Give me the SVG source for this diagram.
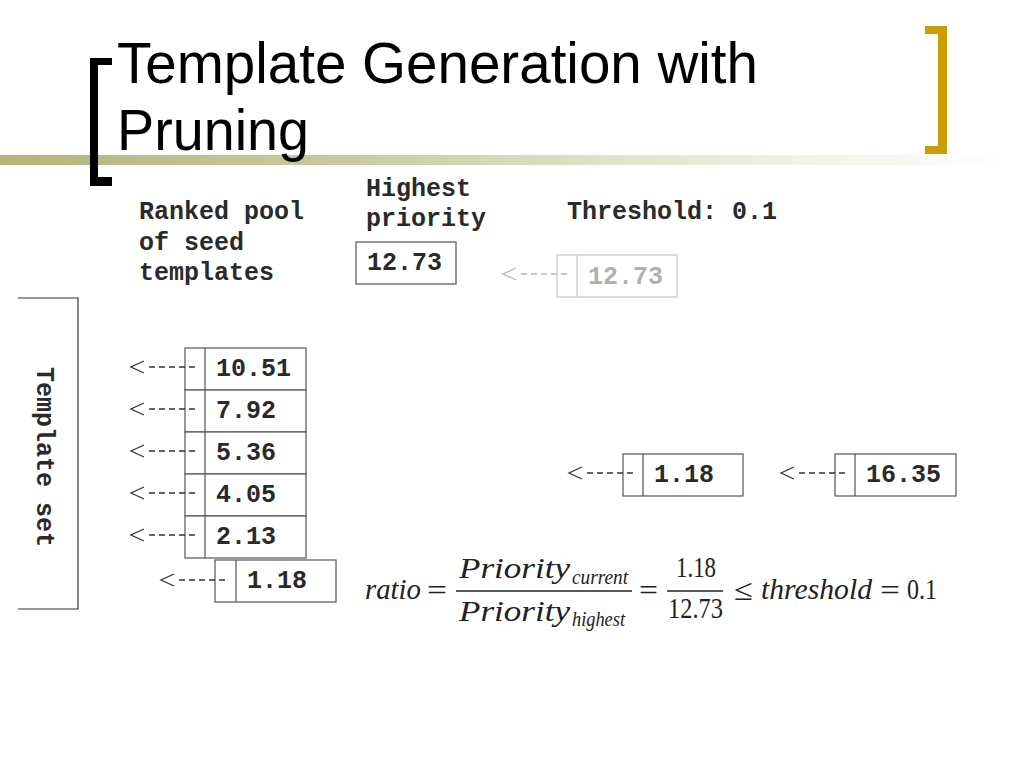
<svg xmlns="http://www.w3.org/2000/svg" width="1024" height="768" viewBox="0 0 1024 768">
<defs>
<linearGradient id="band" x1="0" y1="0" x2="1" y2="0">
<stop offset="0" stop-color="#b3b57a"/>
<stop offset="0.35" stop-color="#c9cb9e"/>
<stop offset="0.75" stop-color="#eeefe2"/>
<stop offset="1" stop-color="#ffffff"/>
</linearGradient>
<style>
.mono{font-family:"Liberation Mono","Courier New",monospace;font-weight:bold;font-size:25px;fill:#2a2a2a}
.box{fill:#fff;stroke:#555;stroke-width:1.2}
.gbox{fill:#fff;stroke:#c8c8c8;stroke-width:1.2}
.gtext{fill:#b0b0b0}
.dash{fill:none;stroke:#333;stroke-width:1.4;stroke-dasharray:6 4}
.chev{fill:none;stroke:#333;stroke-width:1.3}
.gray .dash,.gray .chev{stroke:#b8b8b8}
.math{font-family:"Liberation Serif","Times New Roman",serif;font-size:30px;fill:#222}
.it{font-style:italic}
.sub{font-size:22px}
</style>
</defs>
<rect width="1024" height="768" fill="#fff"/>
<g id="title-decor">
<rect x="0" y="155" width="1010" height="10" fill="url(#band)"/>
<path d="M112 58 H90 V186 H112 V177 H98 V65 H112 Z" fill="#000"/>
<path d="M925 26 H947 V154 H925 V146 H938 V34 H925 Z" fill="#cc9c00"/>
</g>
<g id="title" font-family="Liberation Sans, Arial, sans-serif" font-size="57" fill="#000">
<text x="117" y="83" textLength="641" lengthAdjust="spacingAndGlyphs">Template Generation with</text>
<text x="117" y="150" textLength="192" lengthAdjust="spacingAndGlyphs">Pruning</text>
</g>
<g id="labels">
<text class="mono" x="139" y="219">Ranked pool</text>
<text class="mono" x="139" y="250">of seed</text>
<text class="mono" x="139" y="280">templates</text>
<text class="mono" x="366" y="196">Highest</text>
<text class="mono" x="366" y="226">priority</text>
<text class="mono" x="567" y="219">Threshold: 0.1</text>
</g>
<g id="template-set">
<path d="M18 298 H78 V609 H18" fill="none" stroke="#333" stroke-width="1.2"/>
<text class="mono" transform="translate(37,367) rotate(90)">Template set</text>
</g>
<g id="highest-box">
<rect class="box" x="356" y="242" width="100" height="42"/>
<text class="mono" x="367" y="270">12.73</text>
</g>
<g id="highest-removed" class="gray">
<rect class="gbox" x="557" y="255" width="120" height="42"/>
<line class="gbox" x1="577" y1="255" x2="577" y2="297"/>
<text class="mono gtext" x="588" y="284">12.73</text>
</g>
<g id="pool">
<g id="n1051"><rect class="box" x="185" y="348" width="121" height="42"/><line class="box" x1="205" y1="348" x2="205" y2="390"/><text class="mono" x="216" y="376">10.51</text></g>
<g id="n792"><rect class="box" x="185" y="390" width="121" height="42"/><line class="box" x1="205" y1="390" x2="205" y2="432"/><text class="mono" x="216" y="418">7.92</text></g>
<g id="n536"><rect class="box" x="185" y="432" width="121" height="42"/><line class="box" x1="205" y1="432" x2="205" y2="474"/><text class="mono" x="216" y="460">5.36</text></g>
<g id="n405"><rect class="box" x="185" y="474" width="121" height="42"/><line class="box" x1="205" y1="474" x2="205" y2="516"/><text class="mono" x="216" y="502">4.05</text></g>
<g id="n213"><rect class="box" x="185" y="516" width="121" height="42"/><line class="box" x1="205" y1="516" x2="205" y2="558"/><text class="mono" x="216" y="544">2.13</text></g>
</g>
<g id="n118a"><rect class="box" x="215" y="560" width="121" height="42"/><line class="box" x1="236" y1="560" x2="236" y2="602"/><text class="mono" x="247" y="588">1.18</text></g>
<g id="n118b"><rect class="box" x="623" y="454" width="120" height="42"/><line class="box" x1="643" y1="454" x2="643" y2="496"/><text class="mono" x="654" y="482">1.18</text></g>
<g id="n1635"><rect class="box" x="835" y="454" width="121" height="42"/><line class="box" x1="855" y1="454" x2="855" y2="496"/><text class="mono" x="866" y="482">16.35</text></g>
<g id="connectors">
<g><path class="chev" d="M144 361 L131 367 L144 373"/><line class="dash" x1="149" y1="367" x2="195" y2="367"/></g>
<g><path class="chev" d="M144 403 L131 409 L144 415"/><line class="dash" x1="149" y1="409" x2="195" y2="409"/></g>
<g><path class="chev" d="M144 445 L131 451 L144 457"/><line class="dash" x1="149" y1="451" x2="195" y2="451"/></g>
<g><path class="chev" d="M144 487 L131 493 L144 499"/><line class="dash" x1="149" y1="493" x2="195" y2="493"/></g>
<g><path class="chev" d="M144 529 L131 535 L144 541"/><line class="dash" x1="149" y1="535" x2="195" y2="535"/></g>
<g><path class="chev" d="M174 574 L161 580 L174 586"/><line class="dash" x1="179" y1="580" x2="225" y2="580"/></g>
<g><path class="chev" d="M582 467 L569 473 L582 479"/><line class="dash" x1="587" y1="473" x2="633" y2="473"/></g>
<g><path class="chev" d="M794 467 L781 473 L794 479"/><line class="dash" x1="799" y1="473" x2="845" y2="473"/></g>
<g class="gray"><path class="chev" d="M516 268 L503 274 L516 280"/><line class="dash" x1="521" y1="274" x2="567" y2="274"/></g>
</g>
<g id="formula">
<text class="math it" x="365" y="599" textLength="56" lengthAdjust="spacingAndGlyphs">ratio</text>
<text class="math" x="427" y="600" textLength="20" lengthAdjust="spacingAndGlyphs">=</text>
<text class="math it" x="459" y="578" textLength="111" lengthAdjust="spacingAndGlyphs">Priority</text>
<text class="math it sub" x="572" y="584" textLength="56" lengthAdjust="spacingAndGlyphs">current</text>
<line x1="456" y1="591" x2="632" y2="591" stroke="#222" stroke-width="1.4"/>
<text class="math it" x="459" y="621" textLength="111" lengthAdjust="spacingAndGlyphs">Priority</text>
<text class="math it sub" x="572" y="626" textLength="53" lengthAdjust="spacingAndGlyphs">highest</text>
<text class="math" x="639" y="600" textLength="19" lengthAdjust="spacingAndGlyphs">=</text>
<text class="math" x="676" y="577" textLength="40" lengthAdjust="spacingAndGlyphs">1.18</text>
<line x1="667" y1="591" x2="723" y2="591" stroke="#222" stroke-width="1.4"/>
<text class="math" x="668" y="618" textLength="55" lengthAdjust="spacingAndGlyphs">12.73</text>
<text class="math" x="734" y="600" textLength="19" lengthAdjust="spacingAndGlyphs">≤</text>
<text class="math it" x="761" y="599" textLength="111" lengthAdjust="spacingAndGlyphs">threshold</text>
<text class="math" x="880" y="600" textLength="20" lengthAdjust="spacingAndGlyphs">=</text>
<text class="math" x="907" y="599" textLength="30" lengthAdjust="spacingAndGlyphs">0.1</text>
</g>
</svg>
